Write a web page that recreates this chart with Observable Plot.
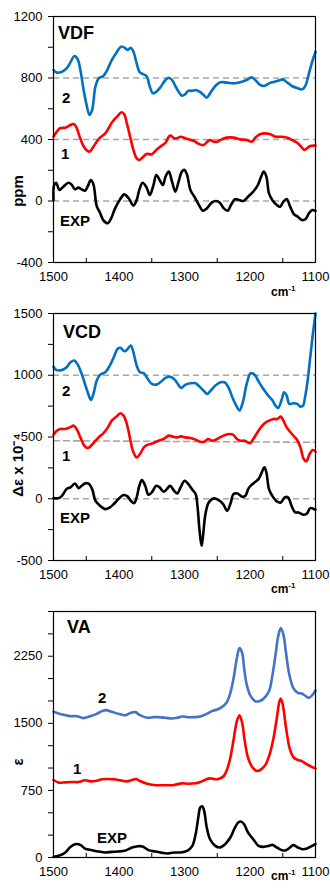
<!DOCTYPE html>
<html><head><meta charset="utf-8">
<script src="https://cdn.jsdelivr.net/npm/d3@7"></script>
<script src="https://cdn.jsdelivr.net/npm/@observablehq/plot@0.6"></script>
<style>
body{margin:0;background:#fff;}
#wrap{position:relative;width:330px;height:888px;font-family:Arial,"Liberation Sans",sans-serif;color:#000;}
#wrap svg{position:absolute;left:0;}
.lbl{position:absolute;font-weight:bold;line-height:1;white-space:nowrap;transform:translateY(-50%);}
.rot{position:absolute;font-weight:bold;font-size:15px;line-height:1;white-space:nowrap;transform:translate(-50%,-50%) rotate(-90deg);}
.cm{position:absolute;font-weight:bold;font-size:12px;line-height:1;white-space:nowrap;}
.cm sup{font-size:8px;line-height:0;vertical-align:5px;}
</style></head>
<body><div id="wrap"></div>
<script>
// ---------- VDF panel ----------
const vdfWn2 = [1500,1495,1487,1480,1475,1468,1463,1459,1454,1450,1445,1441,1436,1431,1424,1418,1411,1403,1397,1390,1387,1382,1378,1373,1369,1364,1358,1353,1348,1343,1337,1329,1324,1319,1314,1309,1304,1299,1294,1289,1283,1277,1272,1266,1261,1253,1245,1235,1225,1215,1205,1198,1192,1184,1179,1171,1164,1156,1150,1143,1136,1127,1120,1115,1110,1105,1100];
const vdf2 = [852,835,841,863,895,943,921,852,722,635,559,592,744,798,813,852,917,971,1004,993,982,997,971,895,841,826,813,744,700,711,739,787,802,787,748,711,685,694,718,716,722,711,694,672,700,748,772,770,765,772,787,804,787,754,748,765,774,783,791,770,748,733,726,754,830,906,971];
const vdfWn1 = [1500,1495,1490,1482,1476,1469,1465,1460,1455,1450,1445,1440,1434,1429,1421,1416,1410,1403,1396,1392,1388,1383,1378,1373,1369,1363,1358,1350,1343,1337,1329,1324,1321,1316,1312,1306,1301,1294,1286,1278,1271,1265,1261,1255,1250,1243,1235,1225,1215,1205,1197,1192,1184,1177,1169,1161,1151,1143,1136,1128,1121,1117,1113,1108,1100];
const vdf1 = [418,451,473,477,490,501,479,418,364,332,321,347,386,412,440,473,516,549,577,564,505,418,332,277,267,288,306,304,332,353,379,418,425,408,408,418,412,401,392,371,364,386,397,386,386,401,412,412,401,397,386,412,436,440,434,418,418,412,397,379,349,332,343,358,360];
const vdfWnE = [1500,1499,1496,1491,1485,1477,1472,1467,1462,1457,1452,1448,1443,1439,1434,1429,1424,1417,1412,1406,1398,1392,1385,1378,1373,1369,1364,1358,1353,1348,1343,1338,1333,1329,1324,1319,1314,1309,1304,1300,1296,1291,1285,1278,1272,1266,1258,1252,1246,1240,1234,1229,1223,1217,1210,1203,1195,1188,1183,1179,1175,1171,1166,1159,1154,1149,1144,1139,1133,1127,1121,1115,1110,1105,1100];
const vdfE = [7,104,119,72,93,119,104,76,87,76,67,93,137,108,-33,-76,-124,-145,-113,-48,13,43,17,-30,7,72,119,89,39,93,169,137,104,158,191,126,61,126,191,202,169,72,28,-26,-63,-48,-9,0,-11,-48,-63,-26,11,7,0,28,61,104,158,191,158,50,7,-26,-37,-4,13,-33,-85,-102,-124,-117,-80,-59,-65];
const vdfBaselines = [0,400,800];

// ---------- VCD panel ----------
const vcdWn2 = [1500,1496,1487,1480,1474,1468,1463,1457,1452,1446,1443,1439,1434,1429,1421,1414,1408,1402,1398,1392,1388,1382,1378,1373,1368,1362,1357,1350,1343,1337,1329,1323,1316,1311,1305,1299,1291,1283,1277,1271,1265,1260,1253,1245,1239,1233,1227,1221,1216,1211,1205,1199,1193,1187,1179,1171,1166,1161,1157,1152,1148,1144,1140,1134,1128,1123,1119,1116,1112,1108,1104,1100];
const vcd2 = [1070,1043,1043,1065,1105,1119,1086,1011,930,835,800,849,957,1003,1024,1078,1146,1214,1222,1195,1205,1241,1186,1078,1024,1016,978,930,924,943,978,989,970,935,897,922,935,935,908,876,849,876,916,943,943,903,822,754,714,781,930,1016,1005,951,884,827,800,754,735,795,862,835,768,773,768,746,754,822,957,1146,1335,1500];
const vcdWn1 = [1500,1495,1490,1482,1475,1469,1464,1459,1453,1448,1444,1438,1431,1424,1417,1411,1404,1398,1393,1388,1383,1378,1373,1368,1362,1356,1348,1340,1332,1324,1319,1313,1305,1299,1291,1283,1276,1270,1264,1258,1253,1246,1238,1231,1226,1220,1214,1208,1200,1195,1187,1179,1171,1164,1158,1153,1149,1144,1136,1128,1123,1118,1114,1109,1104,1100];
const vcd1 = [519,551,565,565,578,592,557,497,430,411,422,457,497,530,578,632,665,692,673,605,484,376,335,362,416,438,449,470,484,511,505,497,505,497,492,478,462,462,484,470,476,497,516,524,519,484,470,470,449,484,551,605,632,646,646,665,632,578,524,476,416,322,303,362,395,381];
const vcdWnE = [1500,1492,1487,1480,1474,1467,1462,1457,1452,1447,1441,1436,1429,1421,1414,1408,1401,1393,1387,1382,1377,1373,1369,1365,1360,1355,1350,1343,1338,1332,1327,1322,1316,1311,1306,1300,1295,1288,1283,1280,1277,1274,1272,1268,1263,1255,1248,1241,1235,1230,1225,1219,1212,1207,1202,1195,1187,1182,1178,1175,1171,1166,1159,1153,1147,1142,1136,1131,1126,1118,1113,1108,1100];
const vcdE = [5,5,24,78,92,124,86,105,124,124,78,-16,-57,-84,-70,-43,-3,30,19,-16,-35,11,105,151,105,32,51,105,92,57,78,105,65,43,92,146,124,73,38,-70,-259,-381,-314,-124,-30,3,-11,-43,-97,-43,38,43,16,24,86,124,159,214,254,214,78,24,-22,-30,11,11,-65,-111,-111,-130,-119,-76,-89];
const vcdBaselines = [0,1000];
const vcdRefWn = [1500,1100];
const vcdRef1 = [470,457];

// ---------- VA panel ----------
const vaWn2 = [1500,1487,1475,1464,1454,1444,1434,1426,1420,1411,1401,1390,1382,1375,1368,1357,1347,1340,1329,1319,1311,1304,1296,1286,1276,1266,1258,1250,1243,1236,1230,1225,1220,1216,1212,1209,1205,1199,1192,1186,1179,1171,1166,1161,1157,1153,1149,1145,1140,1134,1127,1121,1116,1110,1105,1100];
const va2 = [1629,1599,1580,1580,1558,1580,1606,1636,1647,1629,1606,1591,1617,1625,1591,1562,1569,1569,1562,1554,1562,1576,1569,1569,1576,1606,1636,1655,1681,1729,1840,2008,2231,2342,2287,2119,1933,1803,1747,1747,1777,1859,2026,2268,2472,2565,2491,2287,2045,1896,1840,1833,1811,1785,1814,1867];
const vaWn1 = [1500,1492,1482,1472,1462,1452,1444,1436,1426,1418,1408,1398,1388,1380,1374,1368,1357,1347,1332,1316,1304,1294,1283,1276,1268,1261,1253,1247,1240,1235,1230,1225,1220,1216,1212,1208,1203,1196,1189,1183,1176,1170,1164,1159,1155,1153,1150,1145,1139,1133,1126,1121,1113,1105,1100];
const va1 = [866,837,840,844,844,863,851,855,874,877,874,863,851,866,877,855,825,811,807,811,829,825,829,844,870,885,874,881,911,985,1115,1320,1524,1591,1506,1301,1115,1004,967,985,1041,1153,1338,1562,1747,1777,1710,1450,1208,1115,1089,1078,1041,1011,996];
const vaWnE = [1500,1492,1482,1475,1467,1459,1452,1441,1431,1421,1411,1401,1390,1380,1371,1364,1355,1345,1334,1327,1316,1306,1296,1288,1283,1279,1276,1273,1270,1266,1261,1253,1246,1238,1230,1223,1218,1214,1209,1203,1195,1187,1179,1171,1166,1159,1151,1145,1139,1134,1127,1120,1113,1105,1100];
const vaE = [7,19,56,112,149,141,100,82,67,56,63,67,78,112,126,123,82,67,52,45,56,56,74,130,260,446,558,573,521,335,204,130,112,149,223,335,390,402,372,279,204,130,119,130,141,112,82,82,112,138,112,93,100,130,149];

// ---------- tick labels ----------
const xMajorTicks = [1500,1400,1300,1200,1100];
const xMinorTicks = [1450,1350,1250,1150];
const vdfYTicks = [-400,-200,0,200,400,600,800,1000,1200];
const vdfYLabels = [-400,0,400,800,1200];
const vcdYTicks = [-500,-250,0,250,500,750,1000,1250,1500];
const vcdYLabels = [-500,0,500,1000,1500];
const vaYTicks = [0,250,500,750,1000,1250,1500,1750,2000,2250,2500,2750];
const vaYLabels = [0,750,1500,2250];

const zip = (xs, ys) => xs.map((x, i) => ({x, y: ys[i]}));
const wrap = document.getElementById("wrap");

function panel({top, height, mTop, mBottom, yDomain, yTicks, yLabels, series, dashed, extra}) {
  const innerH = height - mTop - mBottom;
  const marks = [];
  if (dashed) marks.push(Plot.ruleY(dashed, {y: d => d, stroke: "#a6a6a6", strokeWidth: 1.6, strokeDasharray: "6,4"}));
  if (extra) marks.push(...extra);
  for (const s of series) {
    marks.push(Plot.line(s.data, {x: "x", y: "y", stroke: s.color, strokeWidth: 2.6, curve: "catmull-rom"}));
  }
  marks.push(Plot.tickX(xMinorTicks, {x: d => d, insetTop: innerH - 4, stroke: "#000", strokeWidth: 1}));
  marks.push(Plot.axisX(xMajorTicks, {tickSize: 0, tickPadding: 9, fontSize: 13, label: null, tickFormat: d => String(d)}));
  marks.push(Plot.axisY(yTicks, {tickSize: 5, tickPadding: 6, fontSize: 13, label: null, tickFormat: d => yLabels.includes(d) ? String(d) : ""}));
  marks.push(Plot.frame({stroke: "#000", strokeWidth: 1.2}));
  const svg = Plot.plot({
    width: 330, height,
    marginTop: mTop, marginBottom: mBottom, marginLeft: 53, marginRight: 15,
    x: {domain: [1500, 1100], label: null},
    y: {domain: yDomain, label: null},
    style: {fontFamily: 'Arial, "Liberation Sans", sans-serif', color: "#000", background: "transparent", overflow: "visible"},
    marks
  });
  svg.style.top = top + "px";
  wrap.appendChild(svg);
}

panel({top: 0, height: 290, mTop: 16, mBottom: 28, yDomain: [-400, 1200], yTicks: vdfYTicks, yLabels: vdfYLabels,
  dashed: vdfBaselines,
  series: [
    {data: zip(vdfWnE, vdfE), color: "#000000"},
    {data: zip(vdfWn1, vdf1), color: "#ff0000"},
    {data: zip(vdfWn2, vdf2), color: "#0070c0"}
  ]});

panel({top: 290, height: 300, mTop: 23, mBottom: 30, yDomain: [-500, 1500], yTicks: vcdYTicks, yLabels: vcdYLabels,
  dashed: vcdBaselines,
  extra: [Plot.line(zip(vcdRefWn, vcdRef1), {x: "x", y: "y", stroke: "#a6a6a6", strokeWidth: 1.6, strokeDasharray: "6,4"})],
  series: [
    {data: zip(vcdWnE, vcdE), color: "#000000"},
    {data: zip(vcdWn1, vcd1), color: "#ff0000"},
    {data: zip(vcdWn2, vcd2), color: "#0070c0"}
  ]});

panel({top: 590, height: 298, mTop: 21, mBottom: 31, yDomain: [0, 2750], yTicks: vaYTicks, yLabels: vaYLabels,
  series: [
    {data: zip(vaWnE, vaE), color: "#000000"},
    {data: zip(vaWn1, va1), color: "#ff0000"},
    {data: zip(vaWn2, va2), color: "#4472c4"}
  ]});

// ---------- text overlays ----------
const texts = [
  ["VDF", 58, 33, 18], ["2", 62, 97, 15], ["1", 61, 153, 15], ["EXP", 60, 220, 15],
  ["VCD", 63, 332, 18], ["2", 62, 390, 15], ["1", 62, 455, 15], ["EXP", 60, 517, 15],
  ["VA", 67, 627, 18], ["2", 98, 697, 15], ["1", 73, 768, 15], ["EXP", 97, 837, 15]
];
for (const [t, x, y, fs] of texts) {
  const d = document.createElement("div");
  d.className = "lbl"; d.textContent = t;
  d.style.left = x + "px"; d.style.top = y + "px"; d.style.fontSize = fs + "px";
  wrap.appendChild(d);
}
const rots = [["ppm", 17, 191], ["Δε x 10⁻⁴", 17, 465], ["ε", 17, 762]];
for (const [t, x, y] of rots) {
  const d = document.createElement("div");
  d.className = "rot"; d.textContent = t;
  d.style.left = x + "px"; d.style.top = y + "px";
  wrap.appendChild(d);
}
const cms = [[271, 286], [271, 583], [271, 870]];
for (const [x, y] of cms) {
  const d = document.createElement("div");
  d.className = "cm"; d.innerHTML = "cm<sup>-1</sup>";
  d.style.left = x + "px"; d.style.top = y + "px";
  wrap.appendChild(d);
}
</script></body></html>
